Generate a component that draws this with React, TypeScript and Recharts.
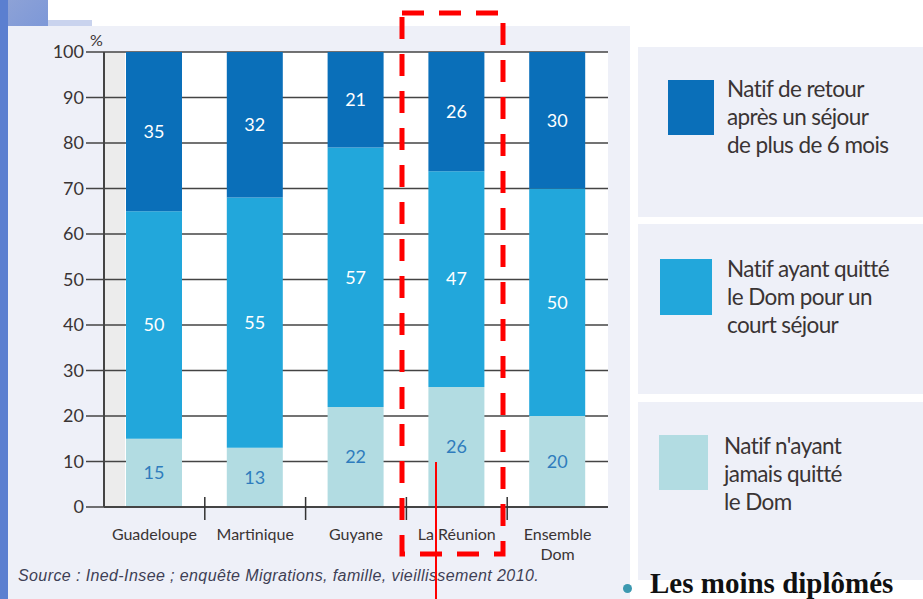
import React from "react";
import { BarChart, Bar, XAxis, YAxis, CartesianGrid, LabelList } from "recharts";

// Part des natifs des Dom selon leur parcours migratoire (%)
const categories = ["Guadeloupe", "Martinique", "Guyane", "La Réunion", "Ensemble Dom"];
const tickLines = [["Guadeloupe"], ["Martinique"], ["Guyane"], ["La Réunion"], ["Ensemble", "Dom"]];
// bar heights; labels print the rounded figure
const jamaisQuitte = [15, 13, 22, 26.4, 20];
const courtSejour = [50, 55, 57, 47.4, 50];
const retour = [35, 32, 21, 26.2, 30];
const yTicks = [0, 10, 20, 30, 40, 50, 60, 70, 80, 90, 100];

const legendLines = [
  ["Natif de retour", "après un séjour", "de plus de 6 mois"],
  ["Natif ayant quitté", "le Dom pour un", "court séjour"],
  ["Natif n'ayant", "jamais quitté", "le Dom"],
];

const COLORS = { retour: "#0a6fb9", court: "#22a7db", jamais: "#b2dce2" };
const FONT = "Lato, 'Open Sans', sans-serif";
const INK = "#3a3434";

const data = categories.map((name, i) => ({
  name,
  jamais: jamaisQuitte[i],
  court: courtSejour[i],
  retour: retour[i],
}));

const fmt = (v: any) => Math.round(Number(v));

function CategoryTick(props: any) {
  const { x, y, payload, index } = props;
  const lines = tickLines[index] ?? [payload.value];
  const half = payload?.offset ?? 50;
  return (
    <g>
      {index > 0 && (
        <line x1={x - half} x2={x - half} y1={y - 10} y2={y + 13} stroke="#333" strokeWidth={1.5} />
      )}
      <text x={x} y={y + 33} textAnchor="middle" fontFamily={FONT} fontSize={16} fill={INK}>
        {lines.map((l: string, i: number) => (
          <tspan key={i} x={x} dy={i === 0 ? 0 : 20}>
            {l}
          </tspan>
        ))}
      </text>
    </g>
  );
}

const legendBoxes = [
  { top: 47, height: 170, sw: { left: 668, top: 80, w: 46, h: 55 }, text: { left: 727, top: 75 }, color: COLORS.retour },
  { top: 224, height: 170, sw: { left: 660, top: 259, w: 52, h: 56 }, text: { left: 727, top: 255 }, color: COLORS.court },
  { top: 402, height: 178, sw: { left: 659, top: 435, w: 49, h: 55 }, text: { left: 724, top: 432 }, color: COLORS.jamais },
];

export default function App() {
  return (
    <div
      style={{
        position: "absolute",
        left: 0,
        top: 0,
        width: 923,
        height: 599,
        overflow: "hidden",
        background: "#ffffff",
      }}
    >
      {/* slide decoration */}
      <div style={{ position: "absolute", left: 0, top: 0, width: 48, height: 26, background: "linear-gradient(135deg,#8fa3d6,#7d98d8)" }} />
      <div style={{ position: "absolute", left: 48, top: 20, width: 44, height: 6, background: "#c9d3ee" }} />
      <div style={{ position: "absolute", left: 0, top: 0, width: 8, height: 599, background: "#5b7fd0" }} />

      {/* chart panel */}
      <div style={{ position: "absolute", left: 8, top: 26, width: 622, height: 573, background: "#eef0f8" }} />
      <div style={{ position: "absolute", left: 104, top: 52, width: 504, height: 455, background: "#ffffff" }} />
      <div style={{ position: "absolute", left: 105, top: 52, width: 20, height: 455, background: "#ececec" }} />
      <div style={{ position: "absolute", left: 90, top: 30, fontFamily: FONT, fontSize: 16, color: INK }}>%</div>

      <div style={{ position: "absolute", left: 0, top: 0 }}>
        <BarChart
          width={923}
          height={599}
          data={data}
          barSize={56}
          margin={{ top: 52, right: 315, bottom: 32, left: 54 }}
        >
          <CartesianGrid horizontal vertical={false} stroke="#444" strokeWidth={1.5} />
          <XAxis
            dataKey="name"
            tick={<CategoryTick />}
            tickLine={false}
            tickSize={0}
            tickMargin={0}
            height={60}
            interval={0}
            axisLine={{ stroke: "#444", strokeWidth: 2 }}
          />
          <YAxis
            domain={[0, 100]}
            ticks={yTicks}
            width={50}
            tickSize={18}
            tickMargin={2}
            interval={0}
            tick={{ fontFamily: FONT, fontSize: 18, fill: INK }}
            tickLine={{ stroke: "#444", strokeWidth: 1.5 }}
            axisLine={{ stroke: "#444", strokeWidth: 2 }}
          />
          <YAxis
            yAxisId="right"
            orientation="right"
            domain={[0, 100]}
            width={0}
            tick={false}
            tickLine={false}
            axisLine={{ stroke: "#444", strokeWidth: 2 }}
          />
          <Bar dataKey="jamais" stackId="a" fill={COLORS.jamais} isAnimationActive={false}>
            <LabelList dataKey="jamais" position="center" formatter={fmt} fill="#2f7cbd" fontSize={18} fontFamily={FONT} />
          </Bar>
          <Bar dataKey="court" stackId="a" fill={COLORS.court} isAnimationActive={false}>
            <LabelList dataKey="court" position="center" formatter={fmt} fill="#ffffff" fontSize={18} fontFamily={FONT} />
          </Bar>
          <Bar dataKey="retour" stackId="a" fill={COLORS.retour} isAnimationActive={false}>
            <LabelList dataKey="retour" position="center" formatter={fmt} fill="#ffffff" fontSize={18} fontFamily={FONT} />
          </Bar>
        </BarChart>
      </div>

      {/* legend */}
      {legendBoxes.map((b, i) => (
        <React.Fragment key={i}>
          <div style={{ position: "absolute", left: 638, top: b.top, width: 285, height: b.height, background: "#eef0f8" }} />
          <div style={{ position: "absolute", left: b.sw.left, top: b.sw.top, width: b.sw.w, height: b.sw.h, background: b.color }} />
          <div
            style={{
              position: "absolute",
              left: b.text.left,
              top: b.text.top,
              fontFamily: FONT,
              fontSize: 22.5,
              lineHeight: "28px",
              letterSpacing: -0.6,
              color: INK,
              whiteSpace: "nowrap",
            }}
          >
            {legendLines[i].map((l, j) => (
              <div key={j}>{l}</div>
            ))}
          </div>
        </React.Fragment>
      ))}

      {/* source */}
      <div
        style={{
          position: "absolute",
          left: 18,
          top: 567,
          fontFamily: "'Liberation Sans', Arial, sans-serif",
          fontStyle: "italic",
          fontSize: 16,
          letterSpacing: 0.4,
          color: "#3e3f55",
          whiteSpace: "nowrap",
        }}
      >
        Source : Ined-Insee ; enquête Migrations, famille, vieillissement 2010.
      </div>

      {/* slide text */}
      <div style={{ position: "absolute", left: 623, top: 584, width: 9, height: 9, borderRadius: 5, background: "#3b98b0" }} />
      <div
        style={{
          position: "absolute",
          left: 650,
          top: 567,
          fontFamily: "'Liberation Serif', 'Times New Roman', serif",
          fontWeight: "bold",
          fontSize: 29,
          color: "#111",
          whiteSpace: "nowrap",
        }}
      >
        Les moins diplômés
      </div>

      {/* red annotation */}
      <svg width={923} height={599} style={{ position: "absolute", left: 0, top: 0, pointerEvents: "none" }}>
        <rect x={402} y={13} width={101} height={541} fill="none" stroke="#ff0000" strokeWidth={5} strokeDasharray="22 15" />
        <line x1={436} x2={436} y1={462} y2={599} stroke="#ff0000" strokeWidth={2} />
      </svg>
    </div>
  );
}
